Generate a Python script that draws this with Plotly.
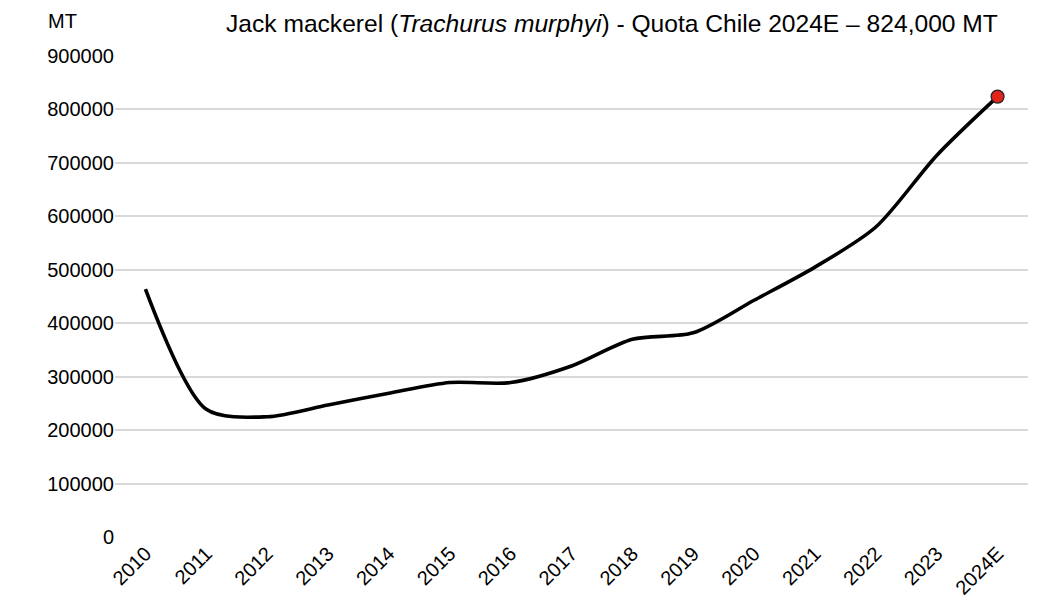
import plotly.graph_objects as go

years = ["2010", "2011", "2012", "2013", "2014", "2015", "2016", "2017",
         "2018", "2019", "2020", "2021", "2022", "2023", "2024E"]
quota_mt = [464000, 239000, 225000, 247000, 269000, 289000, 289000, 320000,
            370000, 382000, 443000, 505000, 580000, 714000, 824000]

y_ticks = [0, 100000, 200000, 300000, 400000, 500000, 600000, 700000, 800000, 900000]

# page body has an 8px default margin, so the figure is 8px smaller each way
W, H = 1032, 598
L, R, T, B = 107, 12, 48, 69

fig = go.Figure()
fig.add_trace(go.Scatter(
    x=years, y=quota_mt, mode="lines",
    line=dict(color="black", width=3.6, shape="spline", smoothing=0.8),
    showlegend=False, hoverinfo="x+y",
))
fig.add_trace(go.Scatter(
    x=[years[-1]], y=[quota_mt[-1]], mode="markers",
    marker=dict(color="#e0251b", size=13, line=dict(color="#222222", width=1.2)),
    showlegend=False,
))

pw = W - L - R
ph = H - T - B


def px2paper(px, py):
    return (px - L) / pw, 1 + (T - py) / ph


tx, ty = px2paper(216, 15)
mx, my = px2paper(54, 13.5)

fig.update_layout(
    width=W, height=H,
    margin=dict(l=L, r=R, t=T, b=B),
    paper_bgcolor="white", plot_bgcolor="white",
    font=dict(family="Liberation Sans, Arial, sans-serif", size=20, color="black"),
    xaxis=dict(type="category", range=[-0.5, 14.5], tickangle=-45,
               showgrid=False, zeroline=False, showline=False, ticks="",
               automargin=False, tickfont=dict(size=20)),
    yaxis=dict(range=[0, 900000], tickvals=y_ticks,
               ticktext=[str(v) for v in y_ticks],
               showgrid=True, gridcolor="#d9d9d9", gridwidth=1.6,
               zeroline=False, showline=False, ticks="", ticklen=0,
               automargin=False, tickfont=dict(size=20)),
    annotations=[
        dict(text="Jack mackerel (<i>Trachurus murphyi</i>) - Quota Chile 2024E – 824,000 MT",
             x=tx, y=ty, xref="paper", yref="paper", showarrow=False,
             xanchor="left", yanchor="middle", font=dict(size=24.6)),
        dict(text="MT", x=mx, y=my, xref="paper", yref="paper", showarrow=False,
             xanchor="center", yanchor="middle", font=dict(size=20)),
    ],
)

fig.write_html("out.html")
